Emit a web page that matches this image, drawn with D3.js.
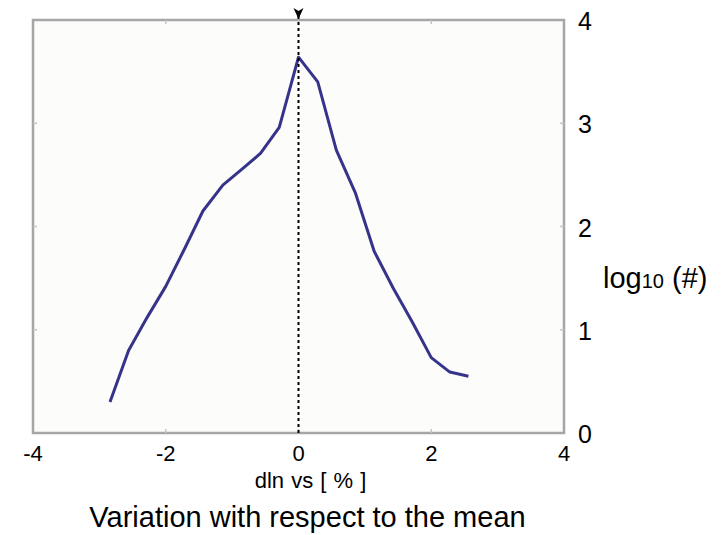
<!DOCTYPE html>
<html>
<head>
<meta charset="utf-8">
<script src="https://cdn.jsdelivr.net/npm/d3@7"></script>
<style>
  body { margin: 0; background: #fff; }
  svg { display: block; }
  text { font-family: "Liberation Sans", Arial, sans-serif; fill: #000; }
</style>
</head>
<body>
<div id="chart"></div>
<script>
// 数据
const dlnVs = [-2.84, -2.56, -2.28, -2.0, -1.72, -1.44, -1.14, -0.86, -0.57, -0.29,
               0, 0.29, 0.57, 0.86, 1.14, 1.43, 1.71, 2.0, 2.28, 2.56];
const logCount = [0.30, 0.80, 1.12, 1.42, 1.78, 2.15, 2.40, 2.55, 2.71, 2.96,
                  3.64, 3.40, 2.74, 2.32, 1.76, 1.40, 1.08, 0.73, 0.59, 0.55];
const xTicks = [-4, -2, 0, 2, 4];
const yTicks = [0, 1, 2, 3, 4];

const width = 724, height = 535;
const margin = {top: 20, right: 160, bottom: 102, left: 33};

const svg = d3.select("#chart").append("svg")
    .attr("width", width)
    .attr("height", height);

const x = d3.scaleLinear().domain([-4, 4]).range([margin.left, width - margin.right]);
const y = d3.scaleLinear().domain([0, 4]).range([height - margin.bottom, margin.top]);

// 绘图区
svg.append("rect")
    .attr("x", x(-4)).attr("y", y(4))
    .attr("width", x(4) - x(-4)).attr("height", y(0) - y(4))
    .attr("fill", "#fcfcfa")
    .attr("stroke", "#a6a6a6")
    .attr("stroke-width", 2.5);

// 内侧刻度
const inner = xTicks.slice(1, -1);
const innerY = yTicks.slice(1, -1);
const tickG = svg.append("g").attr("stroke", "#c4c4c4").attr("stroke-width", 1.5);
tickG.selectAll(".tt").data(inner).join("line")
    .attr("x1", d => x(d)).attr("x2", d => x(d))
    .attr("y1", y(4)).attr("y2", y(4) + 4);
tickG.selectAll(".tb").data(inner).join("line")
    .attr("x1", d => x(d)).attr("x2", d => x(d))
    .attr("y1", y(0)).attr("y2", y(0) - 4);
tickG.selectAll(".tl").data(innerY).join("line")
    .attr("x1", x(-4)).attr("x2", x(-4) + 4)
    .attr("y1", d => y(d)).attr("y2", d => y(d));
tickG.selectAll(".tr").data(innerY).join("line")
    .attr("x1", x(4)).attr("x2", x(4) - 4)
    .attr("y1", d => y(d)).attr("y2", d => y(d));

// 曲线
const line = d3.line().x(d => x(d[0])).y(d => y(d[1]));
svg.append("path")
    .datum(d3.zip(dlnVs, logCount))
    .attr("fill", "none")
    .attr("stroke", "#36348a")
    .attr("stroke-width", 3)
    .attr("stroke-linejoin", "round")
    .attr("d", line);

// 零线 + 箭头
svg.append("line")
    .attr("x1", x(0)).attr("x2", x(0))
    .attr("y1", y(4) - 4).attr("y2", y(0))
    .attr("stroke", "#000")
    .attr("stroke-width", 2)
    .attr("stroke-dasharray", "3,3");
svg.append("path")
    .attr("d", `M${x(0) - 5},${y(4) - 12} L${x(0)},${y(4) - 1} L${x(0) + 5},${y(4) - 12} L${x(0)},${y(4) - 9} Z`)
    .attr("fill", "#000");

// x 轴标签
svg.append("g")
    .selectAll("text").data(xTicks).join("text")
    .attr("x", d => x(d))
    .attr("y", y(0) + 28)
    .attr("text-anchor", "middle")
    .attr("font-size", 22)
    .text(d => d3.format("d")(d).replace("−", "-"));

// y 轴标签
svg.append("g")
    .selectAll("text").data(yTicks).join("text")
    .attr("x", x(4) + 14)
    .attr("y", d => y(d) + 10)
    .attr("font-size", 25)
    .text(d => d);

const yl = svg.append("text")
    .attr("x", x(4) + 39)
    .attr("y", y(1.5) + 10)
    .attr("font-size", 29);
yl.append("tspan").text("log");
yl.append("tspan").attr("font-size", 20).text("10");
yl.append("tspan").text(" (#)");

svg.append("text")
    .attr("x", x(0) + 12)
    .attr("y", y(0) + 55)
    .attr("text-anchor", "middle")
    .attr("font-size", 22)
    .attr("word-spacing", 1)
    .text("dln vs [ % ]");

svg.append("text")
    .attr("x", x(0) + 9)
    .attr("y", y(0) + 94)
    .attr("text-anchor", "middle")
    .attr("font-size", 29)
    .text("Variation with respect to the mean");
</script>
</body>
</html>
